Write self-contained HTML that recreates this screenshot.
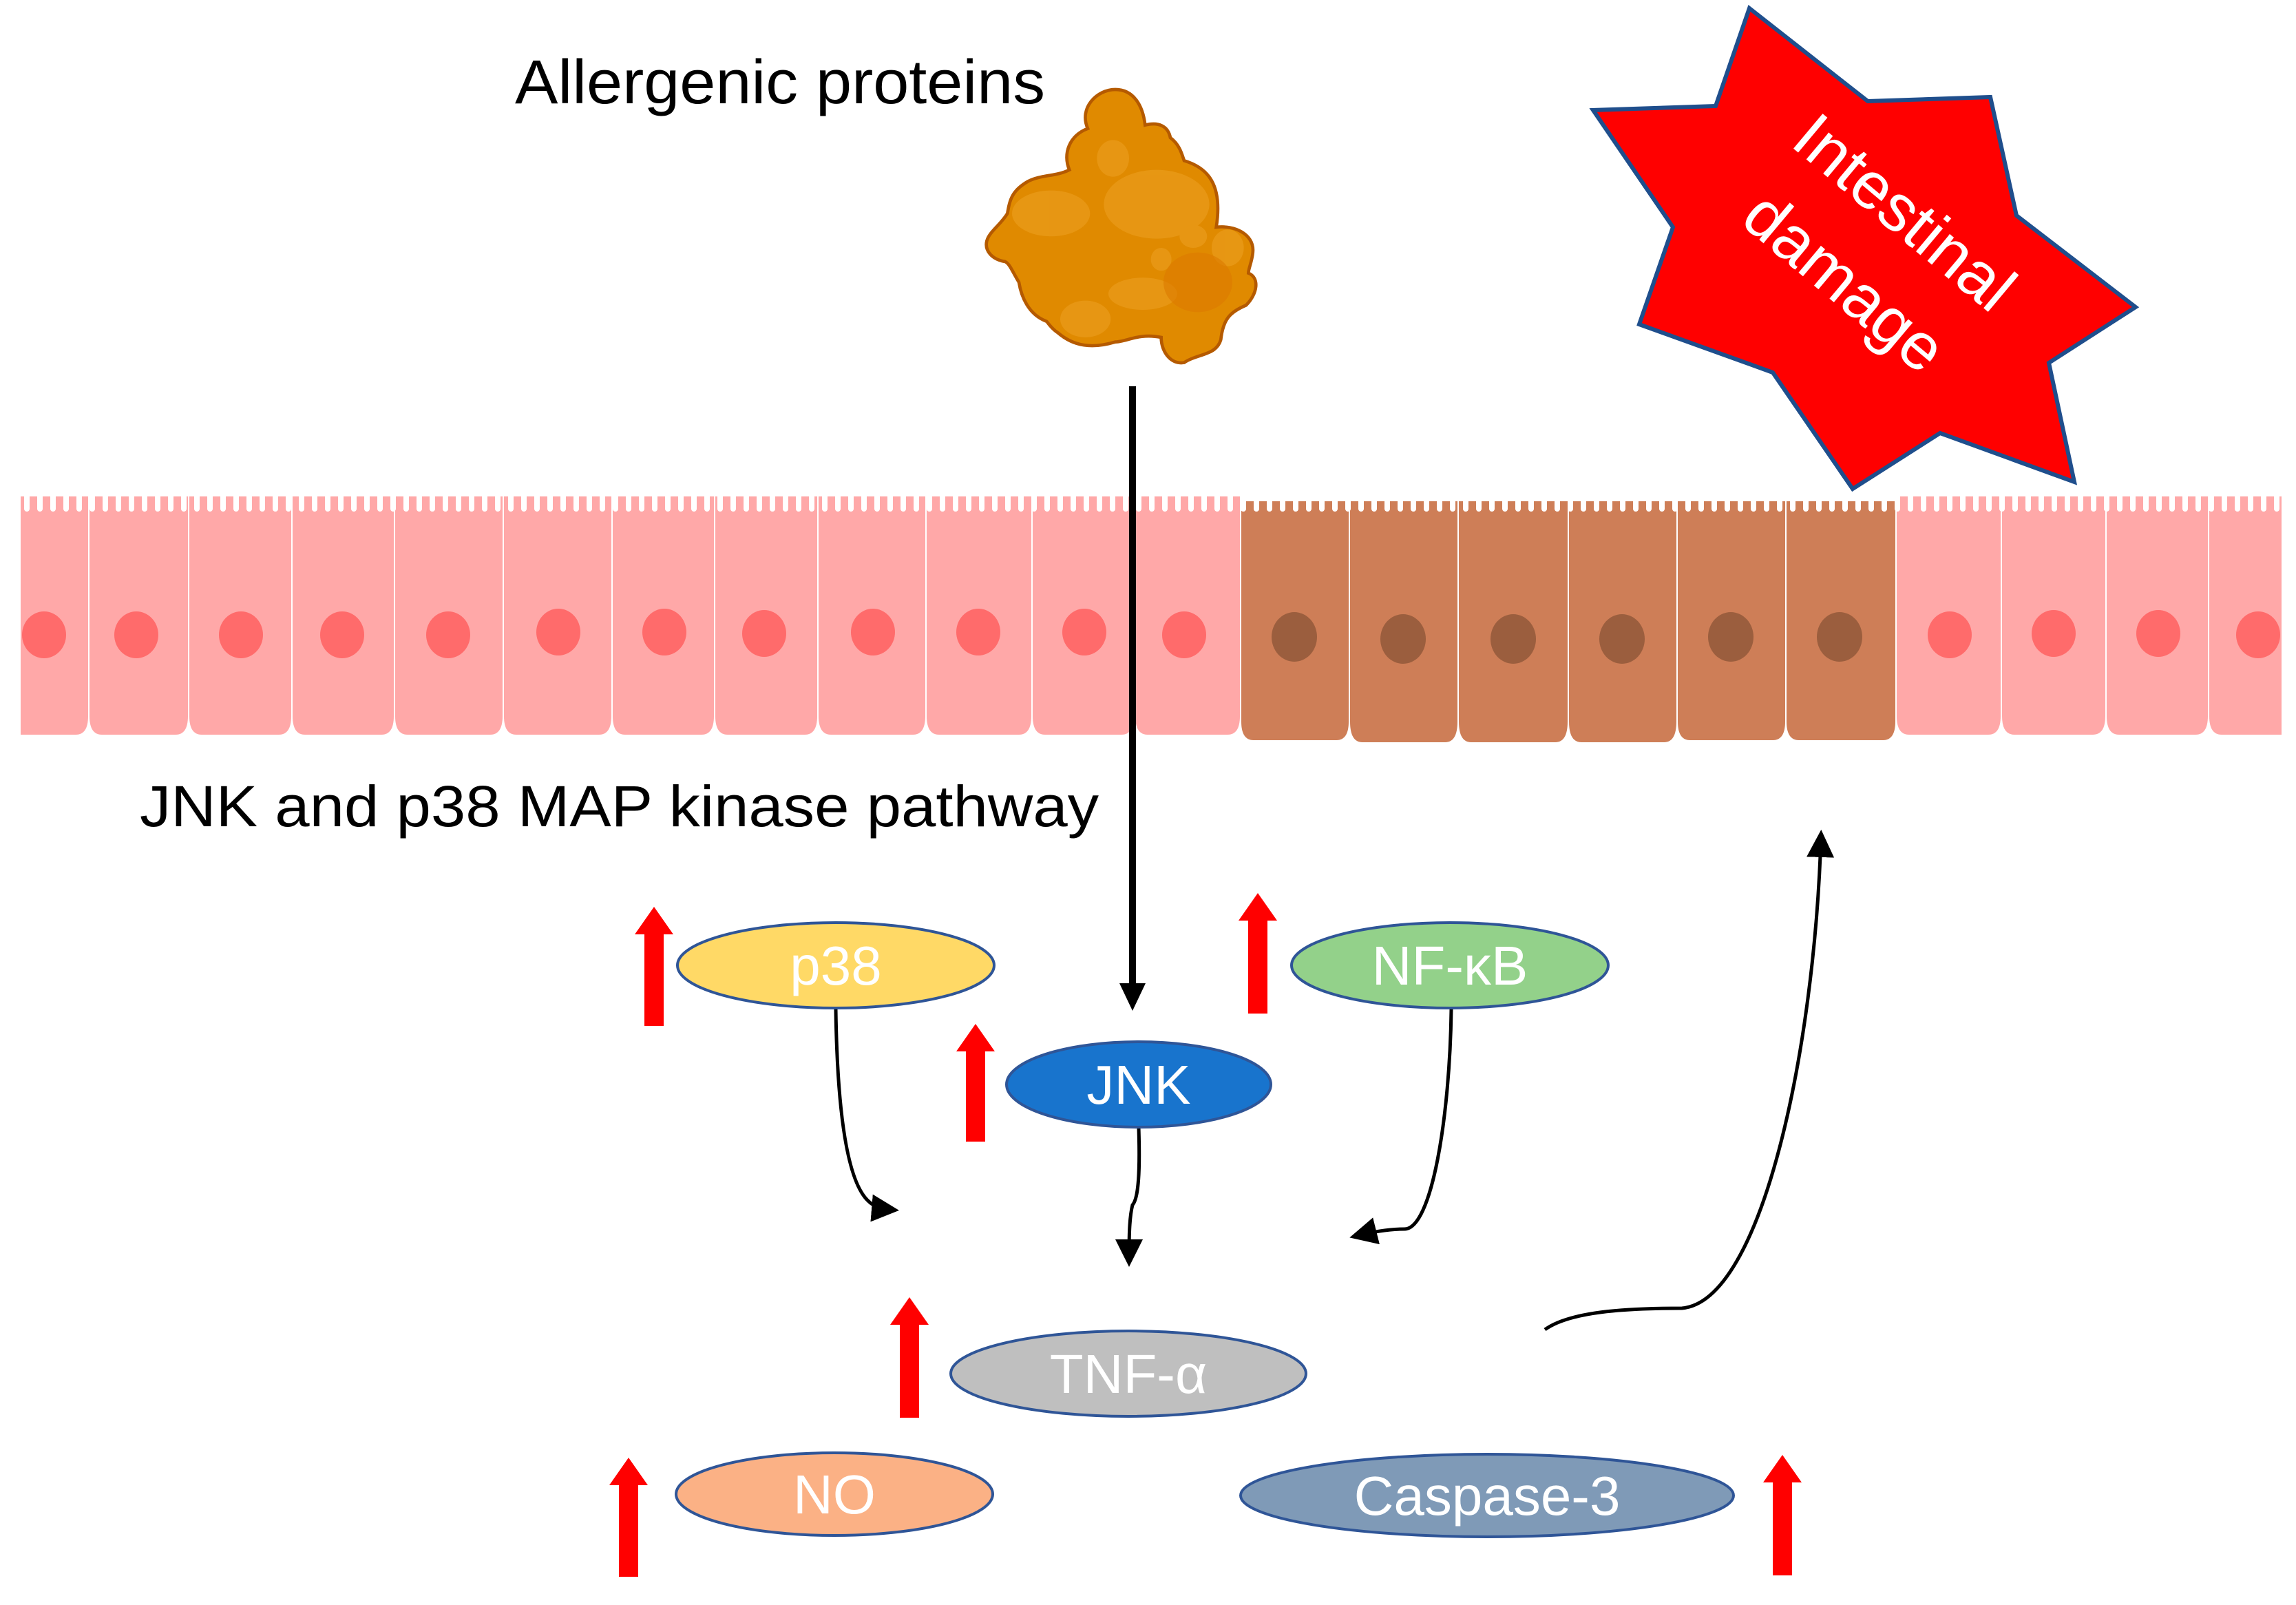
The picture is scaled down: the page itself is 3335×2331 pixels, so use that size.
<!DOCTYPE html>
<html><head><meta charset="utf-8"><style>
html,body{margin:0;padding:0;background:#fff;}
svg{display:block}
text{font-family:"Liberation Sans",sans-serif;}
</style></head><body>
<svg width="3335" height="2331" viewBox="0 0 3335 2331" xmlns="http://www.w3.org/2000/svg">
<defs>
<pattern id="vp" x="30" y="721" width="19" height="30" patternUnits="userSpaceOnUse">
<rect x="5" y="0" width="8" height="22" rx="4" fill="#fff"/>
<rect x="5" y="0" width="8" height="12" fill="#fff"/>
</pattern>
<marker id="ah" markerWidth="8" markerHeight="8" refX="6" refY="4" orient="auto" markerUnits="strokeWidth">
<path d="M0,0 L8,4 L0,8 Z" fill="#000"/>
</marker>
</defs>

<g>
<g fill="#FFA8A8">
<path d="M30,721 H128 V1040 Q128,1067 110,1067 H30 Z"/>
<path d="M130,721 H273 V1040 Q273,1067 255,1067 H148 Q130,1067 130,1040 Z"/>
<path d="M275,721 H423 V1040 Q423,1067 405,1067 H293 Q275,1067 275,1040 Z"/>
<path d="M425,721 H572 V1040 Q572,1067 554,1067 H443 Q425,1067 425,1040 Z"/>
<path d="M574,721 H730 V1040 Q730,1067 712,1067 H592 Q574,1067 574,1040 Z"/>
<path d="M732,721 H888 V1040 Q888,1067 870,1067 H750 Q732,1067 732,1040 Z"/>
<path d="M890,721 H1037 V1040 Q1037,1067 1019,1067 H908 Q890,1067 890,1040 Z"/>
<path d="M1039,721 H1187 V1040 Q1187,1067 1169,1067 H1057 Q1039,1067 1039,1040 Z"/>
<path d="M1189,721 H1344 V1040 Q1344,1067 1326,1067 H1207 Q1189,1067 1189,1040 Z"/>
<path d="M1346,721 H1498 V1040 Q1498,1067 1480,1067 H1364 Q1346,1067 1346,1040 Z"/>
<path d="M1500,721 H1647 V1040 Q1647,1067 1629,1067 H1518 Q1500,1067 1500,1040 Z"/>
<path d="M1649,721 H1801 V1040 Q1801,1067 1783,1067 H1667 Q1649,1067 1649,1040 Z"/>
<path d="M2755,721 H2906 V1040 Q2906,1067 2888,1067 H2773 Q2755,1067 2755,1040 Z"/>
<path d="M2908,721 H3058 V1040 Q3058,1067 3040,1067 H2926 Q2908,1067 2908,1040 Z"/>
<path d="M3060,721 H3207 V1040 Q3207,1067 3189,1067 H3078 Q3060,1067 3060,1040 Z"/>
<path d="M3209,721 H3314 V1067 H3227 Q3209,1067 3209,1040 Z"/>
</g>
<g fill="#CE7E57">
<path d="M1803,728 H1959 V1048 Q1959,1075 1941,1075 H1821 Q1803,1075 1803,1048 Z"/>
<path d="M1961,728 H2117 V1048 Q2117,1078 2099,1078 H1979 Q1961,1078 1961,1048 Z"/>
<path d="M2119,728 H2277 V1048 Q2277,1078 2259,1078 H2137 Q2119,1078 2119,1048 Z"/>
<path d="M2279,728 H2435 V1048 Q2435,1078 2417,1078 H2297 Q2279,1078 2279,1048 Z"/>
<path d="M2437,728 H2593 V1048 Q2593,1075 2575,1075 H2455 Q2437,1075 2437,1048 Z"/>
<path d="M2595,728 H2753 V1048 Q2753,1075 2735,1075 H2613 Q2595,1075 2595,1048 Z"/>
</g>
<rect x="30" y="719" width="3284" height="26" fill="url(#vp)"/>
<g fill="#FF6B6B">
<ellipse cx="64" cy="922" rx="32" ry="34"/><ellipse cx="198" cy="922" rx="32" ry="34"/>
<ellipse cx="350" cy="922" rx="32" ry="34"/><ellipse cx="497" cy="922" rx="32" ry="34"/>
<ellipse cx="651" cy="922" rx="32" ry="34"/><ellipse cx="811" cy="918" rx="32" ry="34"/>
<ellipse cx="965" cy="918" rx="32" ry="34"/><ellipse cx="1110" cy="920" rx="32" ry="34"/>
<ellipse cx="1268" cy="918" rx="32" ry="34"/><ellipse cx="1421" cy="918" rx="32" ry="34"/>
<ellipse cx="1575" cy="918" rx="32" ry="34"/><ellipse cx="1720" cy="922" rx="32" ry="34"/>
<ellipse cx="2832" cy="922" rx="32" ry="34"/><ellipse cx="2983" cy="920" rx="32" ry="34"/>
<ellipse cx="3135" cy="920" rx="32" ry="34"/><ellipse cx="3280" cy="922" rx="32" ry="34"/>
</g>
<g fill="#9B5E3E">
<ellipse cx="1880" cy="925" rx="33" ry="36"/><ellipse cx="2038" cy="928" rx="33" ry="36"/>
<ellipse cx="2198" cy="928" rx="33" ry="36"/><ellipse cx="2356" cy="928" rx="33" ry="36"/>
<ellipse cx="2514" cy="925" rx="33" ry="36"/><ellipse cx="2672" cy="925" rx="33" ry="36"/>
</g>
</g>

<!-- star -->
<polygon points="2541,12 2713,147 2891,141 2929,313 3102,446 2976,527 3013,700 2818,629 2691,710 2575,541 2381,471 2430,330 2314,160 2492,154" fill="#FF0000" stroke="#1F4E8C" stroke-width="6" stroke-linejoin="miter"/>
<text x="2766" y="341" transform="rotate(40 2766 309)" font-size="96" fill="#fff" text-anchor="middle">Intestinal</text>
<text x="2679" y="442" transform="rotate(40 2679 410)" font-size="96" fill="#fff" text-anchor="middle">damage</text>

<!-- protein -->
<g transform="translate(1420,110) scale(0.3333)">
<path d="M480,230 C440,140 520,60 600,60 C680,60 720,130 730,215 C790,200 830,220 840,270 C880,300 890,340 900,370 C1000,400 1070,470 1040,660 C1120,650 1200,690 1200,760 C1200,800 1180,840 1180,860 C1230,880 1220,950 1170,1000 C1100,1030 1070,1060 1060,1150 C1040,1220 960,1210 900,1250 C840,1260 800,1200 800,1140 C700,1120 650,1160 600,1160 C500,1190 420,1180 350,1120 C320,1100 310,1080 300,1070 C220,1040 190,960 180,900 C150,850 140,820 120,810 C60,800 30,760 40,720 C50,680 100,650 130,600 C140,540 150,500 220,460 C280,430 340,440 400,410 C370,340 400,260 480,230 Z" fill="#E08A00" stroke="#B55A00" stroke-width="14"/>
<g fill="#E99A18" opacity="0.8">
<ellipse cx="780" cy="560" rx="230" ry="150"/><ellipse cx="590" cy="360" rx="70" ry="80"/>
<ellipse cx="320" cy="600" rx="170" ry="100"/><ellipse cx="470" cy="1060" rx="110" ry="80"/>
<ellipse cx="720" cy="950" rx="150" ry="70"/><ellipse cx="940" cy="700" rx="60" ry="50"/>
<ellipse cx="1090" cy="750" rx="70" ry="80"/><ellipse cx="800" cy="800" rx="45" ry="50"/>
</g>
<ellipse cx="960" cy="900" rx="150" ry="130" fill="#DC7A00" opacity="0.6"/>
</g>

<text x="748" y="150" font-size="90" fill="#000" textLength="770" lengthAdjust="spacingAndGlyphs">Allergenic proteins</text>
<text x="203" y="1200" font-size="84" fill="#000" textLength="1393" lengthAdjust="spacingAndGlyphs">JNK and p38 MAP kinase pathway</text>

<line x1="1645" y1="561" x2="1645" y2="1432" stroke="#000" stroke-width="10"/>
<polygon points="1626,1428 1664,1428 1645,1468" fill="#000"/>

<g fill="none" stroke="#000" stroke-width="5">
<path d="M1214,1466 C1216,1600 1228,1715 1262,1745 Q1272,1755 1296,1757" marker-end="url(#ah)"/>
<path d="M1654,1638 C1656,1700 1654,1740 1645,1750 C1640,1770 1640,1800 1640,1830" marker-end="url(#ah)"/>
<path d="M2108,1466 C2106,1620 2080,1785 2040,1785 Q2010,1785 1970,1795" marker-end="url(#ah)"/>
<path d="M2244,1931 C2280,1905 2360,1900 2443,1900 C2560,1890 2636,1520 2645,1215" marker-end="url(#ah)"/>
</g>

<g stroke="#2F5597" stroke-width="4">
<ellipse cx="1214" cy="1402" rx="230" ry="62" fill="#FFD966"/>
<ellipse cx="2106" cy="1402" rx="230" ry="62" fill="#93D18A"/>
<ellipse cx="1654" cy="1575" rx="192" ry="62" fill="#1874CD"/>
<ellipse cx="1639" cy="1995" rx="258" ry="62" fill="#BFBFBF"/>
<ellipse cx="1212" cy="2170" rx="230" ry="60" fill="#FBB185"/>
<ellipse cx="2160" cy="2172" rx="358" ry="60" fill="#7F9AB7"/>
</g>
<g fill="#fff" font-size="80" text-anchor="middle">
<text x="1214" y="1430">p38</text>
<text x="2106" y="1430">NF-κB</text>
<text x="1654" y="1603">JNK</text>
<text x="1639" y="2023">TNF-α</text>
<text x="1212" y="2198">NO</text>
<text x="2160" y="2200">Caspase-3</text>
</g>

<g fill="#FF0000">
<path d="M936,1490 V1357 H922 L950,1317 L978,1357 H964 V1490 Z"/>
<path d="M1403,1658 V1527 H1389 L1417,1487 L1445,1527 H1431 V1658 Z"/>
<path d="M1813,1472 V1337 H1799 L1827,1297 L1855,1337 H1841 V1472 Z"/>
<path d="M1307,2059 V1924 H1293 L1321,1884 L1349,1924 H1335 V2059 Z"/>
<path d="M899,2290 V2157 H885 L913,2117 L941,2157 H927 V2290 Z"/>
<path d="M2575,2288 V2153 H2561 L2589,2113 L2617,2153 H2603 V2288 Z"/>
</g>
</svg>
</body></html>
